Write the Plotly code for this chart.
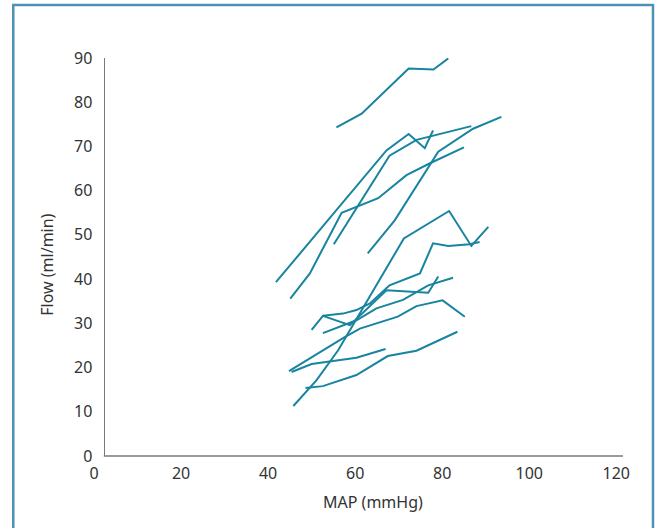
import plotly.graph_objects as go

# Each series: MAP (mmHg) values and Flow (ml/min) values
map_1 = [55.7, 61.5, 72.3, 78.0, 81.4]
flow_1 = [74.3, 77.4, 87.6, 87.4, 89.9]

map_2 = [41.8, 67.2, 72.3, 76.0, 77.9]
flow_2 = [39.3, 69.1, 72.8, 69.6, 73.6]

map_3 = [45.1, 49.6, 56.9, 65.3, 71.8, 77.2, 85.0]
flow_3 = [35.6, 41.3, 55.0, 58.3, 63.5, 66.2, 69.8]

map_4 = [55.1, 67.9, 74.1, 86.7]
flow_4 = [47.9, 67.9, 71.5, 74.6]

map_5 = [62.9, 69.1, 79.1, 87.1, 93.6]
flow_5 = [45.8, 53.3, 68.8, 74.0, 76.7]

map_6 = [45.8, 51.1, 56.1, 71.2, 81.6, 86.7, 90.6]
flow_6 = [11.3, 17.1, 23.9, 49.2, 55.4, 47.5, 51.8]

map_7 = [52.6, 57.2, 60.3, 63.4, 67.9, 74.9, 77.9, 81.4, 86.3, 88.6]
flow_7 = [31.7, 32.2, 33.0, 34.5, 38.6, 41.3, 48.1, 47.5, 47.9, 48.4]

map_8 = [50.0, 52.6, 58.8, 67.2, 76.8, 79.1]
flow_8 = [28.5, 31.7, 29.6, 37.5, 36.9, 40.6]

map_9 = [52.6, 60.3, 64.9, 71.0, 76.8, 82.5]
flow_9 = [27.8, 30.7, 33.4, 35.3, 38.6, 40.3]

map_10 = [44.8, 50.0, 57.6, 61.1, 65.7, 69.8, 74.1, 80.1, 85.2]
flow_10 = [19.2, 22.4, 26.9, 28.8, 30.3, 31.5, 33.9, 35.2, 31.5]

map_11 = [45.4, 50.0, 60.3, 67.0]
flow_11 = [19.0, 20.8, 22.2, 24.2]

map_12 = [48.6, 52.6, 60.3, 67.5, 74.1, 83.5]
flow_12 = [15.4, 15.8, 18.3, 22.6, 23.8, 28.1]

series = [
    (map_1, flow_1), (map_2, flow_2), (map_3, flow_3), (map_4, flow_4),
    (map_5, flow_5), (map_6, flow_6), (map_7, flow_7), (map_8, flow_8),
    (map_9, flow_9), (map_10, flow_10), (map_11, flow_11), (map_12, flow_12),
]

x_ticks = [0, 20, 40, 60, 80, 100, 120]
y_ticks = [0, 10, 20, 30, 40, 50, 60, 70, 80, 90]

LINE_COLOR = "#18849f"
AXIS_COLOR = "#7a7a7a"
TEXT_COLOR = "#333333"
FONT = "Noto Sans"

fig = go.Figure()
for xs, ys in series:
    fig.add_trace(go.Scatter(
        x=xs, y=ys, mode="lines",
        line=dict(color=LINE_COLOR, width=2),
        showlegend=False, hoverinfo="skip",
    ))

fig.update_layout(
    width=662, height=528,
    margin=dict(l=94, r=39, t=58, b=72),
    paper_bgcolor="white", plot_bgcolor="white",
    font=dict(family=FONT, size=16, color=TEXT_COLOR),
    xaxis=dict(
        range=[0, 121.55], tickvals=x_ticks, ticktext=[str(v) for v in x_ticks],
        showgrid=False, zeroline=False, showline=False, ticks="",
        ticklabelstandoff=6, tickfont=dict(size=16, color=TEXT_COLOR),
    ),
    yaxis=dict(
        range=[0, 90], tickvals=y_ticks, ticktext=[str(v) for v in y_ticks],
        anchor="free", position=0.0185,
        showgrid=False, zeroline=False, showline=True,
        linecolor=AXIS_COLOR, linewidth=1.3, ticks="",
        ticklabelstandoff=8, tickfont=dict(size=16, color=TEXT_COLOR),
    ),
    annotations=[
        dict(text="MAP (mmHg)", xref="paper", yref="paper",
             x=0.527, y=-0.115, showarrow=False,
             xanchor="center", yanchor="middle",
             font=dict(size=16, color=TEXT_COLOR, family=FONT)),
        dict(text="Flow (ml/min)", xref="paper", yref="paper",
             x=-0.0893, y=0.48, showarrow=False, textangle=-90,
             xanchor="center", yanchor="middle",
             font=dict(size=16, color=TEXT_COLOR, family=FONT)),
    ],
    shapes=[
        # x-axis baseline starting at the y-axis
        dict(type="line", xref="paper", yref="paper",
             x0=0.0185, x1=1.0, y0=0, y1=0,
             line=dict(color=AXIS_COLOR, width=1.3)),
        # outer frame (open at the bottom)
        dict(type="path", xref="paper", yref="paper",
             path="M -0.1526,-0.2 L -0.1526,1.1332 L 1.0567,1.1332 L 1.0567,-0.2",
             line=dict(color="#4d92b4", width=2.5)),
    ],
)

fig.write_html(
    "out.html",
    config={"displayModeBar": False},
    post_script="document.body.style.margin='0';document.body.style.overflow='hidden';",
)
